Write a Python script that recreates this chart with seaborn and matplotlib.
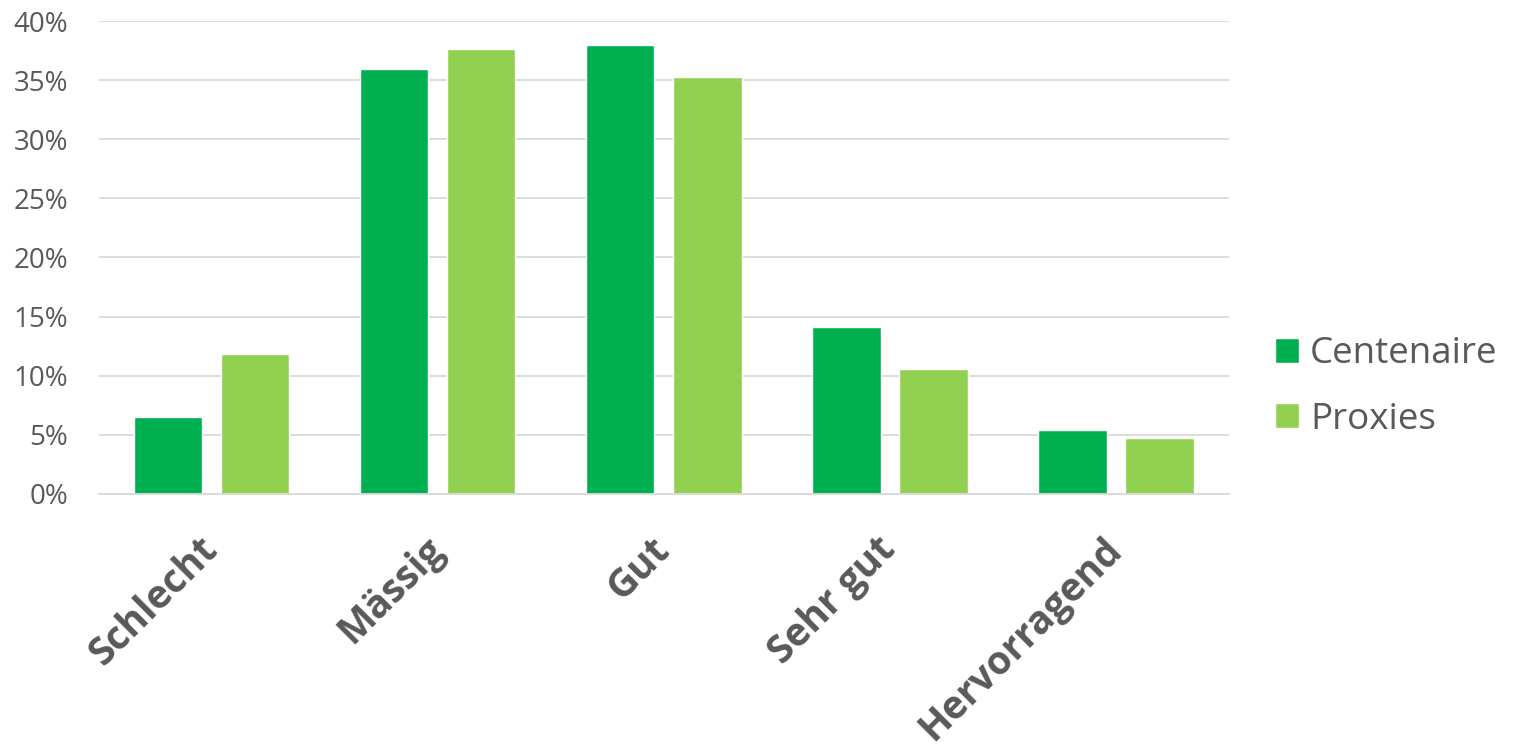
import pandas as pd
import seaborn as sns
import matplotlib.pyplot as plt
from matplotlib.ticker import PercentFormatter

# data
categories = ["Schlecht", "Mässig", "Gut", "Sehr gut", "Hervorragend"]
centenaire = [6.5, 35.9, 38.0, 14.1, 5.4]
proxies = [11.8, 37.6, 35.3, 10.6, 4.7]

df = pd.DataFrame({
    "Kategorie": categories * 2,
    "Anteil": centenaire + proxies,
    "Gruppe": ["Centenaire"] * len(categories) + ["Proxies"] * len(categories),
})

sns.set_theme(style="white")
plt.rcParams["font.family"] = ["Open Sans", "DejaVu Sans"]

grey = "#595959"
fig = plt.figure(figsize=(15.13, 7.48), dpi=100)
ax = fig.add_axes([0.0654, 0.3396, 0.8123 - 0.0654, 0.9719 - 0.3396])

sns.barplot(
    data=df,
    x="Kategorie",
    y="Anteil",
    hue="Gruppe",
    order=categories,
    palette=["#00B050", "#92D050"],
    width=0.77,
    gap=0.218,
    saturation=1,
    ax=ax,
)

ax.set_ylim(0, 40)
ax.set_yticks(range(0, 41, 5))
ax.yaxis.set_major_formatter(PercentFormatter(decimals=0))
ax.grid(axis="y", color="#D9D9D9", linewidth=1.3)
ax.set_axisbelow(True)
for s in ["top", "right", "left"]:
    ax.spines[s].set_visible(False)
ax.spines["bottom"].set_color("#D9D9D9")
ax.spines["bottom"].set_linewidth(1.3)

ax.set_xlabel("")
ax.set_ylabel("")
ax.tick_params(axis="y", labelsize=20, colors=grey, length=0, pad=22)
ax.tick_params(axis="x", length=0, pad=36)
for lab in ax.get_xticklabels():
    lab.set_rotation(45)
    lab.set_ha("right")
    lab.set_va("center")
    lab.set_rotation_mode("anchor")
    lab.set_fontsize(28)
    lab.set_fontweight("bold")
    lab.set_color(grey)

ax.legend(
    loc="center left",
    bbox_to_anchor=(1.024, 0.226),
    frameon=False,
    borderpad=0,
    fontsize=26.5,
    labelcolor=grey,
    handlelength=0.67,
    handleheight=0.67,
    handletextpad=0.3,
    labelspacing=0.8,
)

plt.savefig("out.png", dpi=100)
plt.close()
